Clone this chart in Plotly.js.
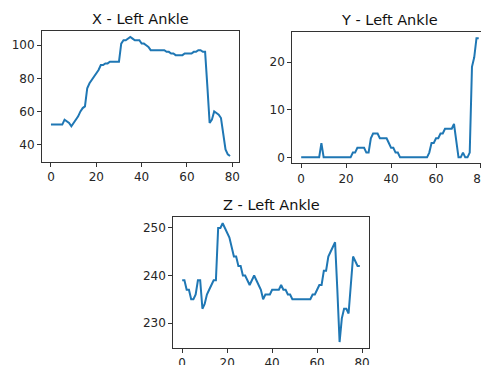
<!DOCTYPE html>
<html><head><meta charset="utf-8">
<script src="https://cdn.plot.ly/plotly-3.0.1.min.js"></script>
<style>html,body{margin:0;padding:0;overflow:hidden;background:#fff}#chart{width:495px;height:365px}</style>
</head><body><div id="chart"></div>
<script>
const frames = [0,1,2,3,4,5,6,7,8,9,10,11,12,13,14,15,16,17,18,19,20,21,22,23,24,25,26,27,28,29,30,31,32,33,34,35,36,37,38,39,40,41,42,43,44,45,46,47,48,49,50,51,52,53,54,55,56,57,58,59,60,61,62,63,64,65,66,67,68,69,70,71,72,73,74,75,76,77,78,79];
const xAnkle = [52,52,52,52,52,52,55,54,53,51,53,55,57,60,62,63,74,77,79,81,83,85,88,88,89,89,90,90,90,90,90,101,103,103,104,105,104,103,103,103,101,101,100,99,97,97,97,97,97,97,97,96,96,95,95,94,94,94,94,95,95,95,95,96,96,97,97,96,96,75,53,55,60,59,58,56,45,37,34,33];
const yAnkle = [0,0,0,0,0,0,0,0,0,3,0,0,0,0,0,0,0,0,0,0,0,0,0,1,1,2,2,2,2,1,1,4,5,5,5,4,4,4,4,3,2,2,1,1,0,0,0,0,0,0,0,0,0,0,0,0,0,1,3,3,4,4,5,5,6,6,6,6,7,3,0,0,1,0,0,1,19,21,25,25];
const zAnkle = [239,239,237,237,235,235,236,239,239,233,234,236,237,238,239,239,250,250,251,250,249,248,246,244,244,242,242,240,240,239,238,239,240,239,238,237,235,236,236,236,237,237,237,237,238,237,237,236,236,235,235,235,235,235,235,235,235,235,236,236,237,238,238,241,241,244,245,246,247,237,226,231,233,233,232,238,244,243,242,242];
const titles = ['X - Left Ankle','Y - Left Ankle','Z - Left Ankle'];
const xTicks = [0,20,40,60,80];
const yTicksX = [40,60,80,100];
const yTicksY = [0,10,20];
const yTicksZ = [230,240,250];

const W = 495, H = 365;
function padRange(a){const mn=Math.min(...a),mx=Math.max(...a),d=(mx-mn)*0.05;return [mn-d,mx+d];}
const xr = padRange(frames);
const col = '#1f77b4';
const font = {family:'DejaVu Sans, sans-serif', size:12, color:'#262626'};
function ax(extra){return Object.assign({showline:true,mirror:true,linecolor:'#333',linewidth:1,ticks:'outside',ticklen:4,tickwidth:1,tickcolor:'#333',showgrid:false,zeroline:false,tickfont:font,fixedrange:true},extra);}
const dom = {
  x1:[42/W,239/W], y1:[1-162/H,1-31/H],
  x2:[292.3/W,487.6/W], y2:[1-163.3/H,1-32.3/H],
  x3:[173.3/W,368.7/W], y3:[1-348/H,1-217.3/H]
};
const data = [
  {x:frames,y:xAnkle,type:'scatter',mode:'lines',line:{color:col,width:2},xaxis:'x',yaxis:'y'},
  {x:frames,y:yAnkle,type:'scatter',mode:'lines',line:{color:col,width:2},xaxis:'x2',yaxis:'y2'},
  {x:frames,y:zAnkle,type:'scatter',mode:'lines',line:{color:col,width:2},xaxis:'x3',yaxis:'y3'}
];
function ann(i,xd,yd){return {text:titles[i],xref:'paper',yref:'paper',x:(xd[0]+xd[1])/2,y:yd[1],xanchor:'center',yanchor:'bottom',yshift:2,showarrow:false,font:{family:'DejaVu Sans, sans-serif',size:14.5,color:'#111'}};}
const layout = {
  width:W,height:H,margin:{l:0,r:0,t:0,b:0},paper_bgcolor:'#fff',plot_bgcolor:'#fff',showlegend:false,
  xaxis:ax({domain:dom.x1,anchor:'y',range:xr,tickvals:xTicks}),
  yaxis:ax({domain:dom.y1,anchor:'x',range:padRange(xAnkle),tickvals:yTicksX}),
  xaxis2:ax({domain:dom.x2,anchor:'y2',range:xr,tickvals:xTicks}),
  yaxis2:ax({domain:dom.y2,anchor:'x2',range:padRange(yAnkle),tickvals:yTicksY}),
  xaxis3:ax({domain:dom.x3,anchor:'y3',range:xr,tickvals:xTicks}),
  yaxis3:ax({domain:dom.y3,anchor:'x3',range:padRange(zAnkle),tickvals:yTicksZ}),
  annotations:[ann(0,dom.x1,dom.y1),ann(1,dom.x2,dom.y2),ann(2,dom.x3,dom.y3)]
};
Plotly.newPlot('chart',data,layout,{displayModeBar:false,staticPlot:true});
</script></body></html>
